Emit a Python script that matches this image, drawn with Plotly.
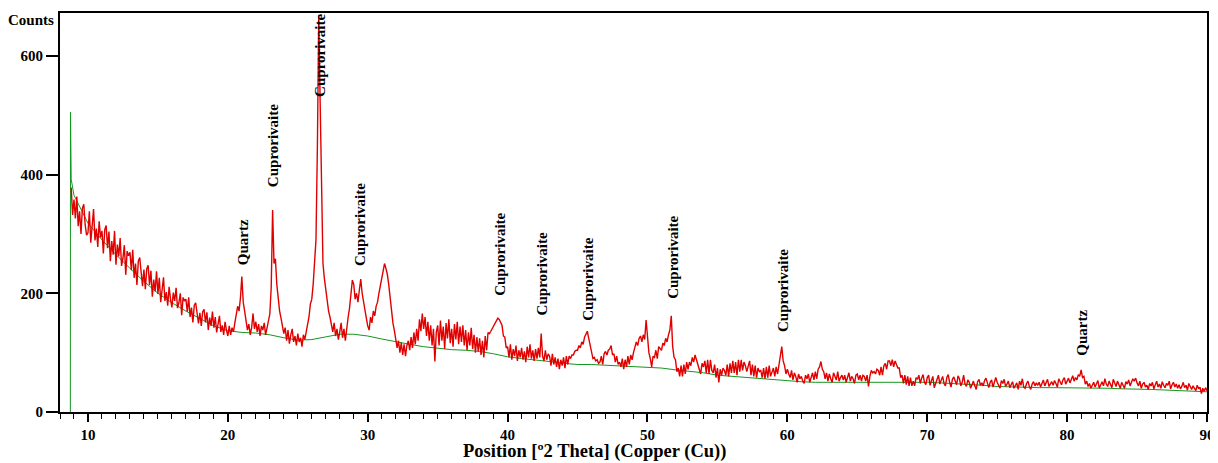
import numpy as np
import plotly.graph_objects as go

# ---- data (counts every 0.1 deg 2-theta) ----
red_start = 8.8
red_step = 0.1
red_counts = [
    378, 332,                                               # 8.8-8.9
    358, 326, 363, 313, 338, 300, 343, 350, 315, 298,       # 9
    302, 338, 285, 322, 342, 289, 309, 278, 321, 294,       # 10
    305, 267, 307, 314, 276, 304, 254, 288, 265, 305,       # 11
    248, 282, 262, 293, 246, 259, 281, 231, 271, 263,       # 12
    269, 239, 273, 226, 250, 214, 254, 260, 228, 212,       # 13
    240, 207, 241, 247, 214, 238, 194, 223, 203, 237,       # 14
    199, 226, 185, 212, 227, 187, 202, 179, 211, 190,       # 15
    176, 201, 187, 209, 175, 184, 200, 163, 193, 187,       # 16
    190, 169, 193, 160, 176, 151, 180, 184, 161, 149,       # 17
    167, 145, 169, 173, 151, 168, 138, 159, 145, 169,       # 18
    142, 160, 134, 152, 162, 135, 146, 130, 152, 138,       # 19
    128, 145, 130, 142, 135, 150, 165, 178, 170, 192,       # 20
    228, 185, 170, 150, 138, 148, 130, 142, 166, 140,       # 21
    152, 135, 148, 128, 145, 138, 150, 130, 142, 155,       # 22
    165, 210, 340, 250, 258, 215, 190, 170, 158, 145,       # 23
    132, 142, 120, 138, 115, 130, 140, 118, 128, 112,       # 24
    132, 118, 125, 110, 130, 122, 135, 142, 160, 182,       # 25
    190, 215, 250, 290, 445, 668, 520, 370, 250, 225,       # 26
    205, 190, 170, 160, 145, 135, 150, 128, 140, 122,       # 27
    135, 150, 125, 140, 120, 145, 160, 175, 200, 222,       # 28
    215, 190, 200, 185, 205, 224, 200, 188, 170, 158,       # 29
    145, 138, 160, 150, 170, 162, 178, 185, 200, 212,       # 30
    228, 236, 250, 242, 232, 215, 190, 172, 150, 138,       # 31
    125, 108, 120, 100, 117, 96, 114, 94, 112, 120,         # 32
    104, 126, 108, 134, 114, 140, 120, 156, 136, 166,       # 33
    140, 160, 128, 152, 120, 146, 112, 140, 85, 134,        # 34
    146, 112, 154, 120, 144, 106, 150, 124, 156, 116,       # 35
    140, 110, 148, 122, 152, 114, 144, 118, 146, 112,       # 36
    138, 104, 134, 112, 142, 106, 130, 100, 126, 102,       # 37
    124, 96, 120, 92, 128, 104, 134, 132, 136, 140,         # 38
    146, 150, 154, 158, 156, 152, 146, 128, 126, 108,       # 39
    110, 92, 114, 88, 106, 94, 112, 86, 104, 92,            # 40
    108, 88, 102, 84, 110, 92, 114, 90, 104, 86,            # 41
    106, 90, 108, 92, 132, 94, 86, 104, 88, 98,             # 42
    94, 78, 98, 80, 92, 76, 90, 72, 88, 78,                 # 43
    92, 74, 94, 80, 94, 90, 96, 96, 102, 104,               # 44
    104, 112, 108, 118, 114, 126, 130, 136, 124, 112,       # 45
    104, 90, 92, 86, 88, 82, 84, 94, 80, 98,                # 46
    102, 96, 104, 106, 112, 96, 98, 84, 94, 80,             # 47
    84, 76, 90, 72, 88, 76, 94, 80, 96, 88,                 # 48
    100, 108, 118, 112, 124, 128, 118, 130, 122, 155,       # 49
    120, 100, 90, 76, 94, 92, 104, 90, 110, 106,            # 50
    104, 116, 112, 124, 118, 130, 138, 162, 110, 92,        # 51
    88, 68, 74, 60, 78, 60, 80, 64, 84, 72,                 # 52
    84, 78, 92, 84, 96, 88, 80, 74, 64, 82,                 # 53
    76, 86, 66, 88, 64, 88, 70, 66, 80, 58,                 # 54
    74, 50, 72, 62, 74, 70, 62, 80, 60, 82,                 # 55
    66, 86, 66, 84, 62, 88, 68, 88, 70, 84,                 # 56
    78, 68, 78, 86, 62, 80, 60, 78, 58, 74,                 # 57
    68, 70, 58, 74, 56, 76, 58, 78, 60, 68,                 # 58
    74, 60, 76, 64, 80, 94, 110, 86, 78, 64,                # 59
    72, 64, 58, 70, 54, 66, 60, 50, 64, 56,                 # 60
    60, 52, 48, 62, 56, 64, 50, 58, 66, 54,                 # 61
    68, 56, 72, 76, 85, 72, 68, 56, 66, 52,                 # 62
    64, 56, 50, 66, 60, 54, 68, 52, 58, 62,                 # 63
    54, 62, 50, 58, 66, 52, 60, 56, 48, 62,                 # 64
    64, 54, 62, 52, 62, 60, 52, 62, 43, 60,                 # 65
    70, 66, 68, 64, 72, 70, 62, 76, 62, 78,                 # 66
    82, 72, 86, 86, 78, 88, 76, 86, 78, 74,                 # 67
    74, 58, 62, 48, 62, 46, 60, 44, 58, 44,                 # 68
    52, 44, 58, 55, 62, 48, 57, 63, 50, 46,                 # 69
    58, 62, 45, 52, 60, 41, 49, 56, 62, 47,                 # 70
    55, 60, 48, 44, 58, 63, 50, 42, 55, 59,                 # 71
    52, 46, 61, 56, 44, 50, 62, 47, 43, 54,                 # 72
    50, 40, 46, 52, 44, 38, 51, 55, 45, 49,                 # 73
    44, 53, 57, 46, 41, 50, 54, 42, 52, 58,                 # 74
    50, 44, 40, 53, 48, 55, 43, 47, 52, 41,                 # 75
    46, 51, 40, 44, 49, 38, 52, 45, 56, 42,                 # 76
    40, 48, 52, 43, 38, 47, 51, 44, 49, 45,                 # 77
    50, 42, 47, 54, 44, 49, 55, 43, 48, 51,                 # 78
    45, 53, 48, 42, 56, 50, 46, 54, 58, 47,                 # 79
    52, 57, 49, 55, 61, 52, 58, 54, 63, 60,                 # 80
    71, 58, 60, 47, 52, 43, 48, 40, 45, 50,                 # 81
    42, 48, 53, 40, 46, 51, 44, 56, 47, 43,                 # 82
    52, 46, 41, 55, 49, 43, 52, 47, 40, 50,                 # 83
    46, 40, 51, 47, 54, 44, 50, 56, 52, 57,                 # 84
    49, 44, 52, 40, 47, 50, 42, 45, 38, 48,                 # 85
    44, 50, 39, 46, 52, 42, 47, 40, 51, 45,                 # 86
    41, 48, 45, 52, 39, 46, 50, 42, 47, 40,                 # 87
    46, 39, 43, 50, 41, 45, 37, 48, 43, 38,                 # 88
    44, 40, 36, 45, 39, 42, 31, 40, 35, 41,                 # 89
    36,                                                     # 90
]

bg_theta = [8.74, 8.75, 8.8, 9, 10, 11, 12, 13, 14, 15, 16, 17, 18, 19, 20, 21, 22, 23, 24, 25,
            26, 27, 28, 29, 30, 31, 32, 33, 34, 35, 36, 37, 38, 39, 40, 41, 42, 43, 44, 45,
            46, 47, 48, 49, 50, 51, 52, 53, 54, 55, 56, 57, 58, 59, 60, 61, 62, 63, 64, 65,
            66, 67, 68, 69, 70, 71, 72, 73, 74, 75, 76, 77, 78, 79, 80, 81, 82, 83, 84, 85,
            86, 87, 88, 89, 90]
bg_counts = [0, 505, 392, 365, 318, 290, 265, 242, 220, 200, 184, 170, 157, 145, 137, 134, 133, 130, 125, 121,
             122, 127, 131, 131, 128, 123, 118, 114, 110, 107, 105, 104, 102, 98, 93, 90, 88, 85, 82, 80,
             80, 79, 78, 77, 75, 74, 71, 69, 66, 62, 60, 58, 56, 54, 52, 51, 50, 50, 51, 51,
             51, 51, 51, 50, 50, 49, 48, 47, 45, 43, 42, 41, 41, 41, 41, 41, 40, 40, 39, 39,
             38, 37, 36, 35, 34]

label_text = ["Quartz", "Cuprorivaite", "Cuprorivaite", "Cuprorivaite", "Cuprorivaite",
              "Cuprorivaite", "Cuprorivaite", "Cuprorivaite", "Cuprorivaite", "Quartz"]
label_theta = [21.05, 23.22, 26.58, 29.44, 39.45, 42.45, 45.74, 51.82, 59.68, 81.05]
label_base = [243, 376, 528, 243, 193, 160, 151, 188, 132, 91]

x_ticks = [10, 20, 30, 40, 50, 60, 70, 80, 90]
y_ticks = [0, 200, 400, 600]

# ---- figure ----
red_theta = np.round(red_start + red_step * np.arange(len(red_counts)), 2)

serif = "Liberation Serif, Times New Roman, serif"

fig = go.Figure()
fig.add_trace(go.Scatter(x=bg_theta, y=bg_counts, mode="lines",
                         line=dict(color="rgb(20,150,30)", width=1), hoverinfo="skip"))
fig.add_trace(go.Scatter(x=red_theta, y=red_counts, mode="lines",
                         line=dict(color="rgb(225,0,0)", width=1.4)))

for t, xv, yv in zip(label_text, label_theta, label_base):
    fig.add_annotation(x=xv, y=yv, xref="x", yref="y", text=t, textangle=-90,
                       showarrow=False, xanchor="center", yanchor="bottom",
                       font=dict(family=serif, size=15, color="black", weight="bold"))

fig.add_annotation(x=-0.0253, y=0.9825, xref="paper", yref="paper", text="Counts",
                   showarrow=False, xanchor="center", yanchor="middle",
                   font=dict(family=serif, size=15, color="black", weight="bold"))

fig.add_annotation(x=0.4656, y=-0.098, xref="paper", yref="paper",
                   text="Position [º2 Theta] (Copper (Cu))",
                   showarrow=False, xanchor="center", yanchor="middle",
                   font=dict(family=serif, size=18.5, color="black", weight="bold"))

# page body has an 8 px margin, so the figure is sized to fit inside the window
fig.update_layout(
    width=1210, height=455,
    margin=dict(l=52, r=11, t=3, b=51),
    paper_bgcolor="white", plot_bgcolor="white",
    showlegend=False,
    font=dict(family=serif, color="black"),
)
fig.update_xaxes(range=[8.0, 90.0], tickvals=x_ticks, ticks="outside", ticklen=8,
                 tickwidth=1.5, tickcolor="black",
                 minor=dict(dtick=1, ticks="outside", ticklen=5, tickcolor="black", tickwidth=1),
                 showline=True, linecolor="black", linewidth=2, mirror=True,
                 showgrid=False, zeroline=False,
                 tickfont=dict(family=serif, size=15, color="black", weight="bold"))
fig.update_yaxes(range=[0, 672], tickvals=y_ticks, ticks="outside", ticklen=12,
                 tickwidth=1.5, tickcolor="black",
                 showline=True, linecolor="black", linewidth=2, mirror=True,
                 showgrid=False, zeroline=False,
                 tickfont=dict(family=serif, size=15, color="black", weight="bold"))

fig.write_html("out.html")
